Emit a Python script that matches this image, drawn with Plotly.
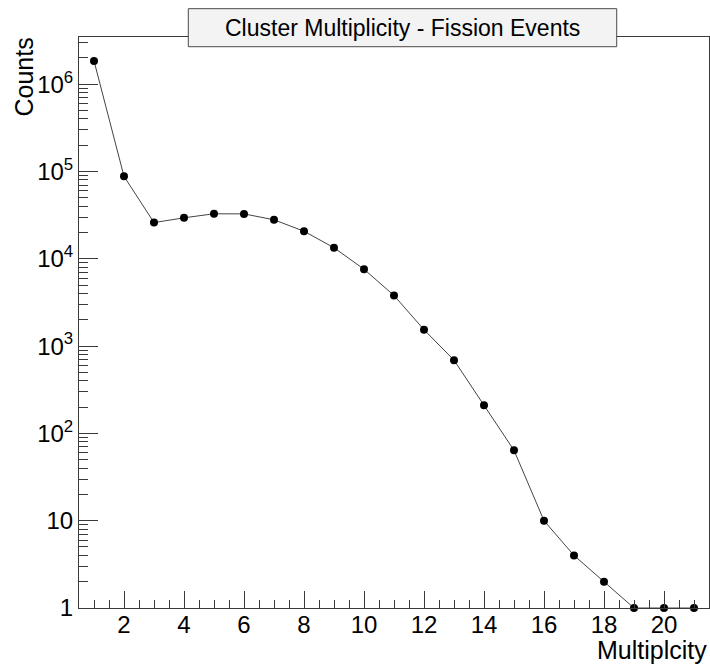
import plotly.graph_objects as go

# Cluster multiplicity histogram (bin contents per multiplicity)
multiplicity = list(range(1, 22))
counts = [1850000, 88000, 26000, 29500, 32800, 32700, 28000, 20700, 13400,
          7600, 3800, 1540, 690, 210, 64, 10, 4, 2, 1, 1, 1]

x_ticks = [2, 4, 6, 8, 10, 12, 14, 16, 18, 20]
y_ticks = [1, 10, 100, 1000, 10000, 100000, 1000000]
y_tick_text = ["1", "10", "10<sup>2</sup>", "10<sup>3</sup>", "10<sup>4</sup>",
               "10<sup>5</sup>", "10<sup>6</sup>"]
y_minor = [m * 10 ** e for e in range(0, 7) for m in range(2, 10)]

font_family = "Liberation Sans, Arial, Helvetica, sans-serif"
axis_col = "#3a3a3a"

fig = go.Figure()
fig.add_trace(go.Scatter(
    x=multiplicity, y=counts, mode="lines+markers",
    line=dict(color="#444444", width=1),
    marker=dict(color="black", size=8, symbol="circle"),
    cliponaxis=False, showlegend=False,
))

fig.update_layout(
    width=710, height=669,
    margin=dict(l=79, r=1, t=37, b=61, pad=0),
    paper_bgcolor="white", plot_bgcolor="white",
    font=dict(family=font_family, color="black"),
    xaxis=dict(
        range=[0.5, 21.5], showgrid=False, zeroline=False,
        showline=True, linecolor=axis_col, linewidth=1, mirror=True,
        tickvals=x_ticks, ticks="inside", ticklen=17, tickcolor=axis_col,
        tickfont=dict(size=24), ticklabelstandoff=-5,
        minor=dict(dtick=0.5, tick0=0, ticks="inside", ticklen=8,
                   tickcolor=axis_col, showgrid=False),
    ),
    yaxis=dict(
        type="log", range=[0, 6.541], showgrid=False, zeroline=False,
        showline=True, linecolor=axis_col, linewidth=1, mirror=True,
        tickvals=y_ticks, ticktext=y_tick_text, ticks="inside", ticklen=19,
        tickcolor=axis_col, tickfont=dict(size=24),
        minor=dict(tickvals=y_minor, ticks="inside", ticklen=9,
                   tickcolor=axis_col, showgrid=False),
    ),
    shapes=[dict(
        type="rect", xref="paper", yref="paper",
        x0=0.1735, x1=0.8535, y0=0.983, y1=1.0496,
        fillcolor="#f3f3f3", line=dict(color="#4a4a4a", width=1),
        layer="above",
    )],
    annotations=[
        dict(text="Cluster Multiplicity - Fission Events", xref="paper", yref="paper",
             x=0.5135, y=1.0163, xanchor="center", yanchor="middle",
             showarrow=False, font=dict(size=23, color="black")),
        dict(text="Multiplcity", xref="paper", yref="paper",
             x=1.0, y=-0.0736, xanchor="right", yanchor="middle",
             showarrow=False, font=dict(size=25, color="black")),
        dict(text="Counts", xref="paper", yref="paper", textangle=-90,
             x=-0.0873, y=0.929, xanchor="center", yanchor="middle",
             showarrow=False, font=dict(size=25, color="black")),
    ],
)

fig.write_html("out.html")
